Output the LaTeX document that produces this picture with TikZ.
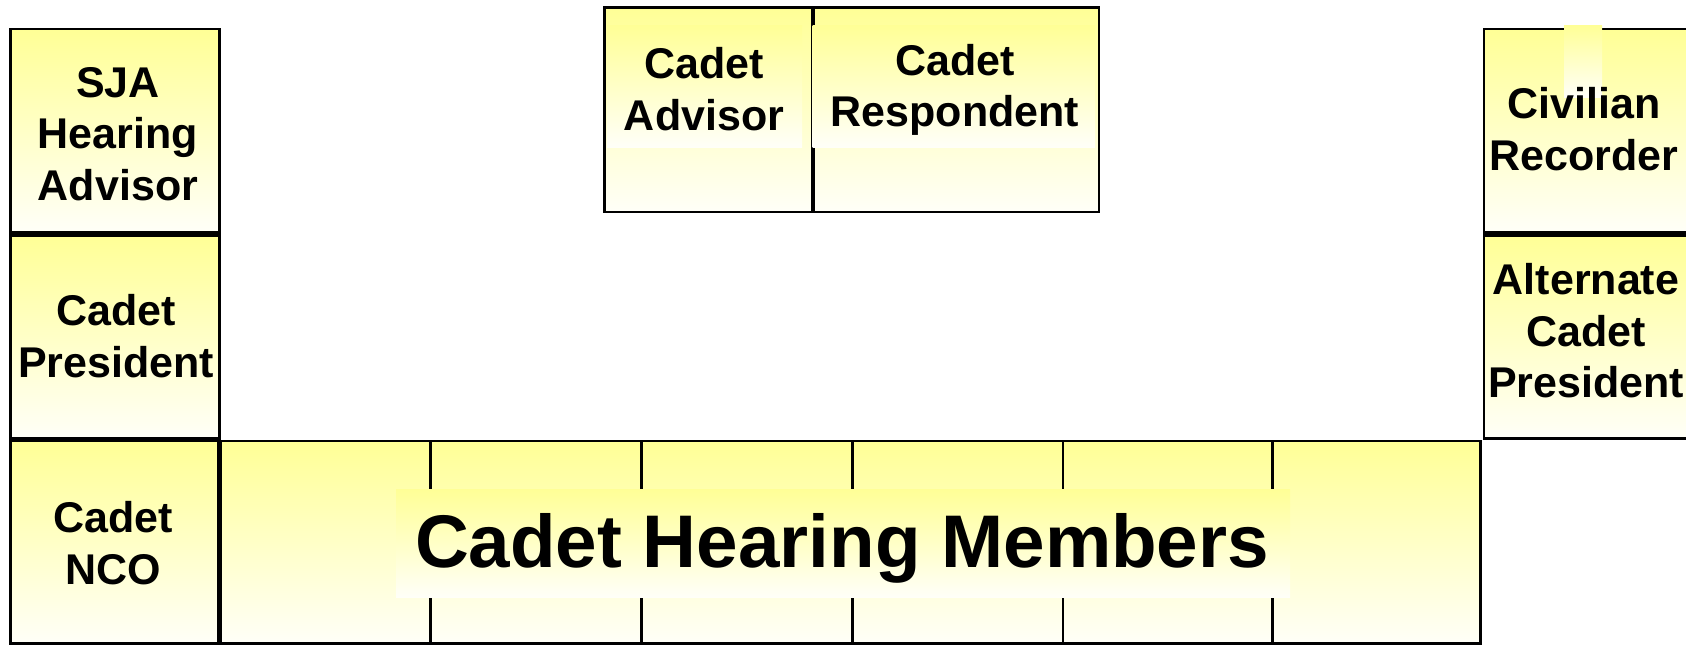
\documentclass[tikz,border=0pt]{standalone}
\usepackage{fontspec}
\setmainfont{Liberation Sans}
\usetikzlibrary{fit}
\definecolor{yelTop}{RGB}{255,255,150}
\definecolor{yelBot}{RGB}{255,255,248}
\begin{document}
\begin{tikzpicture}[x=0.5pt,y=-0.5pt,
  cell/.style={draw=black, line width=1.3pt, inner sep=0pt, top color=yelTop, bottom color=yelBot},
  tbox/.style={draw=none, inner sep=0pt, top color=yelTop, bottom color=yelBot},
  lbl/.style={align=center, inner sep=0pt, font=\bfseries\fontsize{21.5}{25.8}\selectfont},
  biglbl/.style={align=center, inner sep=0pt, font=\bfseries\fontsize{37.3}{44}\selectfont}]
\useasboundingbox (0,0) rectangle (1686,645);
% left column
\node[cell, fit={(10.75,29) (219.4,232.3)}] (sja) {};
\node[cell, fit={(10.75,235.5) (219.4,438.7)}] (pres) {};
\node[cell, fit={(10.75,441) (218.3,643.5)}] (nco) {};
% members
\node[cell, fit={(220.4,441) (430.7,643.5)}] (m1) {};
\node[cell, fit={(430.7,441) (641.4,643.5)}] (m2) {};
\node[cell, fit={(641.4,441) (852.2,643.5)}] (m3) {};
\node[cell, fit={(852.2,441) (1062.9,643.5)}] (m4) {};
\node[cell, fit={(1062.9,441) (1272.6,643.5)}] (m5) {};
\node[cell, fit={(1272.6,441) (1480.7,643.5)}] (m6) {};
% top center
\node[cell, fit={(604.3,7.5) (811.8,211.8)}] (adv) {};
\node[cell, fit={(814,7.5) (1099,211.8)}] (resp) {};
% right column
\node[cell, fit={(1484,29) (1700,232.3)}] (rec) {};
\node[cell, fit={(1484,235.5) (1700,438.7)}] (alt) {};
% text-box backgrounds
\node[tbox, fit={(607,25) (802,147)}] (advbg) {};
\node[tbox, fit={(812.5,25) (1095,147)}] (respbg) {};
\node[tbox, fit={(1564,25) (1602,97)}] (recbg) {};
\node[tbox, fit={(396,489) (1290,597)}] (membg) {};
% labels
\node[lbl] (sjat) at (118,134) {SJA\\Hearing\\Advisor};
\node[lbl] (prest) at (116,336) {Cadet\\President};
\node[lbl] (ncot) at (113,543) {Cadet\\NCO};
\node[lbl] (advt) at (704,89) {Cadet\\Advisor};
\node[lbl] (respt) at (955,90) {Cadet\\Respondent};
\node[lbl] (rect) at (1584,129) {Civilian\\Recorder};
\node[lbl] (altt) at (1586,331) {Alternate\\Cadet\\President};
\node[biglbl] (memt) at (842,548) {Cadet Hearing Members};
\end{tikzpicture}
\end{document}
